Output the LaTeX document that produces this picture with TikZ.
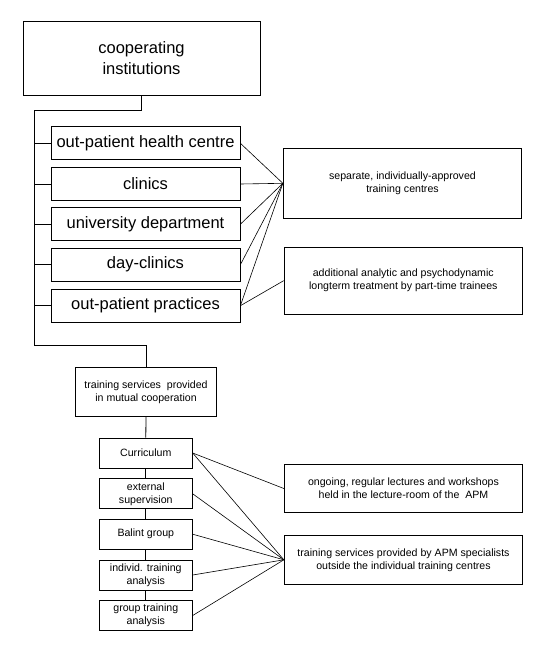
\documentclass[tikz,border=0pt]{standalone}
\usepackage{fontspec}
\setmainfont{Liberation Sans}
\begin{document}
\begin{tikzpicture}[x=1pt,y=-1pt,
  line width=0.8pt,
  bigbox/.style={draw, inner sep=0pt, align=center, font=\fontsize{16.5}{20.5}\selectfont},
  smallbox/.style={draw, inner sep=0pt, align=center, font=\fontsize{10.6}{13}\selectfont},
  inst/.style={bigbox, minimum width=189pt, minimum height=33pt},
  serv/.style={smallbox, minimum width=93pt, minimum height=30pt},
  info/.style={smallbox, minimum width=238.5pt},
  fan/.style={line width=0.6pt}]
\useasboundingbox (0,0) rectangle (544,651);
% top box
\node[bigbox, minimum width=237pt, minimum height=74pt] (top) at (141.5,58) {cooperating\\institutions};
% institutions
\node[inst] (i1) at (145.5,143.3) {out-patient health centre};
\node[inst] (i2) at (145.5,184) {clinics};
\node[inst] (i3) at (145.5,224.2) {university department};
\node[inst] (i4) at (145.5,264.7) {day-clinics};
\node[inst] (i5) at (145.5,305.7) {out-patient practices};
% right info boxes upper
\node[info, minimum height=70pt] (r1) at (402.5,183.3) {separate, individually-approved\\training centres};
\node[info, minimum height=66.7pt] (r2) at (403.3,280.7) {additional analytic and psychodynamic\\longterm treatment by part-time trainees};
% training services
\node[smallbox, minimum width=140.6pt, minimum height=48.3pt] (ts) at (146,391.8) {training services\ \ provided\\in mutual cooperation};
% services
\node[serv] (s1) at (145.8,453) {Curriculum};
\node[serv] (s2) at (145.8,493.8) {external\\supervision};
\node[serv] (s3) at (145.8,534.2) {Balint group};
\node[serv] (s4) at (145.8,575) {individ. training\\analysis};
\node[serv] (s5) at (145.8,615.5) {group training\\analysis};
% lower info boxes
\node[info, minimum height=48.4pt] (ra) at (403.5,488.5) {ongoing, regular lectures and workshops\\held in the lecture-room of the\ \ APM};
\node[info, minimum height=48.3pt] (rb) at (403.5,559.8) {training services provided by APM specialists\\outside the individual training centres};
% trunk
\coordinate (t1) at (141.5,110.7);
\coordinate (t2) at (34.3,110.7);
\coordinate (t3) at (34.3,345);
\coordinate (t4) at (146,345);
\draw (top.south) -- (t1) -- (t2) -- (t3) -- (t4) -- (ts.north);
\foreach \n in {i1,i2,i3,i4,i5}{
  \draw (t2 |- \n.west) -- (\n.west);
}
% fan to r1
\foreach \n in {i1,i2,i3,i4,i5}{
  \draw[fan] (\n.east) -- (r1.west);
}
\draw[fan] (i5.east) -- (r2.west);
% services chain
\draw (ts.south) -- (s1.north);
\draw (s1.south) -- (s2.north);
\draw (s2.south) -- (s3.north);
\draw (s3.south) -- (s4.north);
\draw (s4.south) -- (s5.north);
% fans lower
\draw[fan] (s1.east) -- (ra.west);
\foreach \n in {s1,s2,s3,s4,s5}{
  \draw[fan] (\n.east) -- (rb.west);
}
\end{tikzpicture}
\end{document}
